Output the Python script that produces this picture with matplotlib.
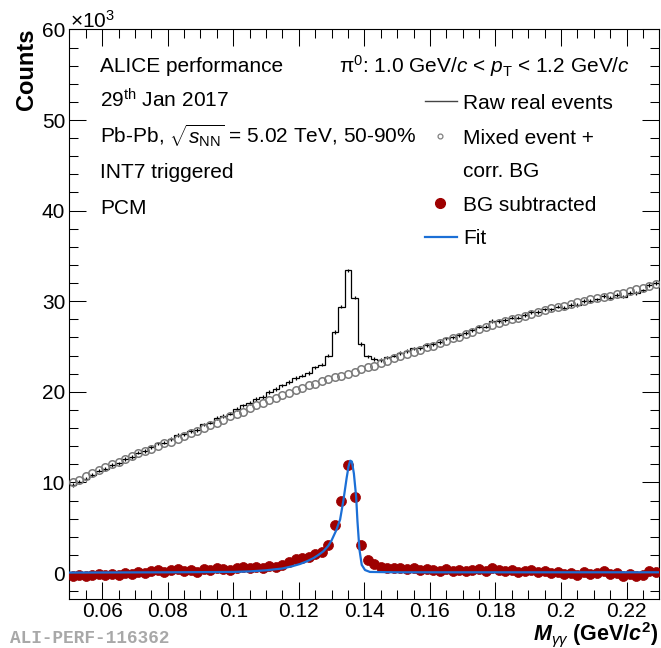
import numpy as np
import matplotlib
matplotlib.use("Agg")
import matplotlib.pyplot as plt
from matplotlib.ticker import FixedLocator, MultipleLocator, FixedFormatter
from matplotlib.lines import Line2D

# invariant mass bins (GeV/c^2), 0.002 wide
m_lo = 0.05
m_hi = 0.23
n_bins = 90

# counts in units of 10^3, one value per bin
raw_real = [
    9.7, 10.1, 10.4, 10.8, 11.3, 11.5, 11.9, 12.1, 12.6, 12.8,
    13.3, 13.5, 13.9, 14.3, 14.4, 14.8, 15.2, 15.3, 15.7, 15.8,
    16.4, 16.6, 17.1, 17.3, 17.6, 18.1, 18.5, 18.8, 19.2, 19.4,
    20.0, 20.3, 20.7, 21.1, 21.5, 21.8, 22.1, 22.7, 23.0, 24.0,
    26.6, 29.4, 33.4, 30.4, 25.3, 23.9, 23.6, 23.5, 23.8, 24.0,
    24.3, 24.5, 24.8, 24.8, 25.2, 25.3, 25.5, 25.9, 26.0, 26.3,
    26.5, 26.8, 27.2, 27.2, 27.8, 27.8, 27.9, 28.2, 28.2, 28.5,
    28.8, 28.8, 29.1, 29.1, 29.4, 29.3, 29.6, 29.6, 30.0, 30.0,
    30.2, 30.6, 30.4, 30.7, 30.5, 30.9, 30.9, 31.2, 31.8, 32.0,
]
raw_err = 0.2

mixed_bg = [
    10.0, 10.3, 10.7, 11.0, 11.4, 11.7, 12.0, 12.3, 12.6, 12.9,
    13.2, 13.5, 13.7, 14.0, 14.3, 14.5, 14.8, 15.1, 15.4, 15.7,
    16.0, 16.3, 16.6, 16.9, 17.3, 17.5, 17.8, 18.2, 18.5, 18.8,
    19.1, 19.3, 19.6, 19.9, 20.2, 20.4, 20.7, 20.9, 21.2, 21.4,
    21.6, 21.8, 22.0, 22.2, 22.5, 22.7, 22.9, 23.2, 23.4, 23.7,
    23.9, 24.2, 24.4, 24.6, 24.9, 25.1, 25.4, 25.6, 25.9, 26.1,
    26.4, 26.6, 26.9, 27.1, 27.4, 27.6, 27.8, 28.0, 28.2, 28.4,
    28.6, 28.8, 29.0, 29.2, 29.4, 29.5, 29.7, 29.9, 30.0, 30.2,
    30.3, 30.5, 30.6, 30.8, 30.9, 31.1, 31.3, 31.5, 31.7, 31.9,
]

bg_subtracted = [
    -0.3, -0.2, -0.3, -0.2, -0.1, -0.2, -0.1, -0.2, 0.0, -0.1,
    0.1, 0.0, 0.2, 0.3, 0.1, 0.3, 0.4, 0.2, 0.3, 0.1,
    0.4, 0.3, 0.5, 0.4, 0.3, 0.6, 0.7, 0.6, 0.7, 0.6,
    0.8, 0.7, 0.9, 1.2, 1.6, 1.7, 1.8, 2.1, 2.3, 3.1,
    5.3, 8.0, 11.9, 8.4, 3.1, 1.4, 1.0, 0.7, 0.6, 0.5,
    0.5, 0.4, 0.5, 0.3, 0.4, 0.3, 0.2, 0.4, 0.2, 0.3,
    0.2, 0.3, 0.4, 0.2, 0.5, 0.3, 0.2, 0.3, 0.1, 0.2,
    0.3, 0.1, 0.2, 0.0, 0.1, -0.1, 0.0, -0.2, 0.1, -0.1,
    0.0, 0.2, -0.1, 0.0, -0.3, -0.1, -0.3, -0.2, 0.2, 0.1,
]

# fit curve
fit_m = [0.050, 0.080, 0.100, 0.105, 0.110, 0.115, 0.118, 0.1204, 0.1225,
         0.1245, 0.1260, 0.1275, 0.1290, 0.1300, 0.1314, 0.1326, 0.1336,
         0.1346, 0.1352, 0.1357, 0.1362, 0.1368, 0.1375, 0.1379, 0.1385,
         0.1392, 0.1402, 0.1417, 0.150, 0.230]
fit_val = [0.05, 0.08, 0.12, 0.18, 0.30, 0.50, 0.75, 1.0, 1.3,
           1.65, 2.0, 2.4, 3.0, 3.6, 4.7, 5.9, 8.0,
           10.5, 11.8, 12.4, 12.3, 11.0, 8.4, 5.7, 2.6,
           0.9, 0.33, 0.12, 0.08, 0.08]

x_ticks = [0.06, 0.08, 0.10, 0.12, 0.14, 0.16, 0.18, 0.20, 0.22]
x_ticklabels = ["0.06", "0.08", "0.1", "0.12", "0.14", "0.16", "0.18", "0.2", "0.22"]
y_ticks = [0, 10, 20, 30, 40, 50, 60]
y_ticklabels = ["0", "10", "20", "30", "40", "50", "60"]

plt.rcParams["font.family"] = ["Liberation Sans", "DejaVu Sans"]
plt.rcParams["mathtext.fontset"] = "custom"
plt.rcParams["mathtext.rm"] = "Liberation Sans"
plt.rcParams["mathtext.it"] = "Liberation Sans:italic"
plt.rcParams["mathtext.bf"] = "Liberation Sans:bold"
plt.rcParams["mathtext.bfit"] = "Liberation Sans:bold:italic"

W, H = 661, 648
fig = plt.figure(figsize=(W / 100, H / 100), dpi=100)
ax = fig.add_axes([69.4 / W, 1 - 599.3 / H, (659.3 - 69.4) / W, (599.3 - 29.4) / H])

edges = np.linspace(m_lo, m_hi, n_bins + 1)
centers = 0.5 * (edges[:-1] + edges[1:])

ax.stairs(raw_real, edges, color="black", lw=0.9, zorder=2)
ax.errorbar(centers, raw_real, yerr=raw_err, fmt="none", ecolor="black", elinewidth=0.9, zorder=2)
ax.plot(centers, mixed_bg, ls="none", marker="o", ms=5.4, mfc="none", mec="#7a7a7a", mew=1.1, zorder=3)
ax.plot(centers, bg_subtracted, ls="none", marker="o", ms=7.2, mfc="#9e0000", mec="#9e0000", mew=0.5, zorder=4)
ax.plot(fit_m, fit_val, color="#1b6fd6", lw=1.6, zorder=5)

ax.set_xlim(m_lo, m_hi)
ax.set_ylim(-2.9, 60)
ax.xaxis.set_major_locator(FixedLocator(x_ticks))
ax.xaxis.set_major_formatter(FixedFormatter(x_ticklabels))
ax.xaxis.set_minor_locator(MultipleLocator(0.005))
ax.yaxis.set_major_locator(FixedLocator(y_ticks))
ax.yaxis.set_major_formatter(FixedFormatter(y_ticklabels))
ax.yaxis.set_minor_locator(MultipleLocator(2))

ax.tick_params(which="both", direction="in", top=True, right=True, width=0.75, labelsize=15)
ax.tick_params(which="major", length=12.2)
ax.tick_params(which="minor", length=6.5)
ax.tick_params(axis="x", pad=2)
ax.tick_params(axis="y", pad=3)
for s in ax.spines.values():
    s.set_linewidth(0.8)

fs = 15
# axis titles
fig.text(27 / W, 1 - 29 / H, "Counts", rotation=90, ha="center", va="top", fontsize=17, fontweight="bold")
fig.text(70 / W, 1 - 28 / H, "×10$^{3}$", ha="left", va="baseline", fontsize=15)
fig.text(658 / W, 1 - 640 / H,
         r"$\mathbfit{M}_{\gamma\gamma}\ \mathbf{(GeV/}\mathbfit{c}^{\mathbf{2}}\mathbf{)}$",
         ha="right", va="baseline", fontsize=15.5)
fig.text(10 / W, 1 - 643 / H, "ALI-PERF-116362", ha="left", va="baseline", fontsize=12.8,
         family="Liberation Mono", color="#a8a8a8", fontweight="bold")

# left labels
info = ["ALICE performance", r"29$^{\rm th}$ Jan 2017",
        r"Pb-Pb, $\sqrt{s_{\rm NN}}$ = 5.02 TeV, 50-90%", "INT7 triggered", "PCM"]
for i, t in enumerate(info):
    fig.text(100 / W, 1 - (72.5 + 35.3 * i) / H, t, ha="left", va="baseline", fontsize=fs)

fig.text(630 / W, 1 - 72.5 / H, r"π$^{0}$: 1.0 GeV/$c$ < $p_{\rm T}$ < 1.2 GeV/$c$",
         ha="right", va="baseline", fontsize=fs)

# legend
tx = 463 / W
fig.text(tx, 1 - 109 / H, "Raw real events", ha="left", va="baseline", fontsize=fs)
fig.text(tx, 1 - 144 / H, "Mixed event +", ha="left", va="baseline", fontsize=fs)
fig.text(tx, 1 - 177.5 / H, "corr. BG", ha="left", va="baseline", fontsize=fs)
fig.text(tx, 1 - 211 / H, "BG subtracted", ha="left", va="baseline", fontsize=fs)
fig.text(tx, 1 - 244 / H, "Fit", ha="left", va="baseline", fontsize=fs)
fig.add_artist(Line2D([425 / W, 457 / W], [1 - 101 / H, 1 - 101 / H], color="#444444", lw=1.0))
fig.add_artist(Line2D([440 / W], [1 - 136 / H], ls="none", marker="o", ms=3.5, mfc="none", mec="#808080", mew=0.9))
fig.add_artist(Line2D([440 / W], [1 - 203 / H], ls="none", marker="o", ms=7, mfc="#9e0000", mec="#9e0000"))
fig.add_artist(Line2D([425 / W, 457 / W], [1 - 236.5 / H, 1 - 236.5 / H], color="#1b6fd6", lw=1.6))

fig.savefig("out.png", dpi=100)
